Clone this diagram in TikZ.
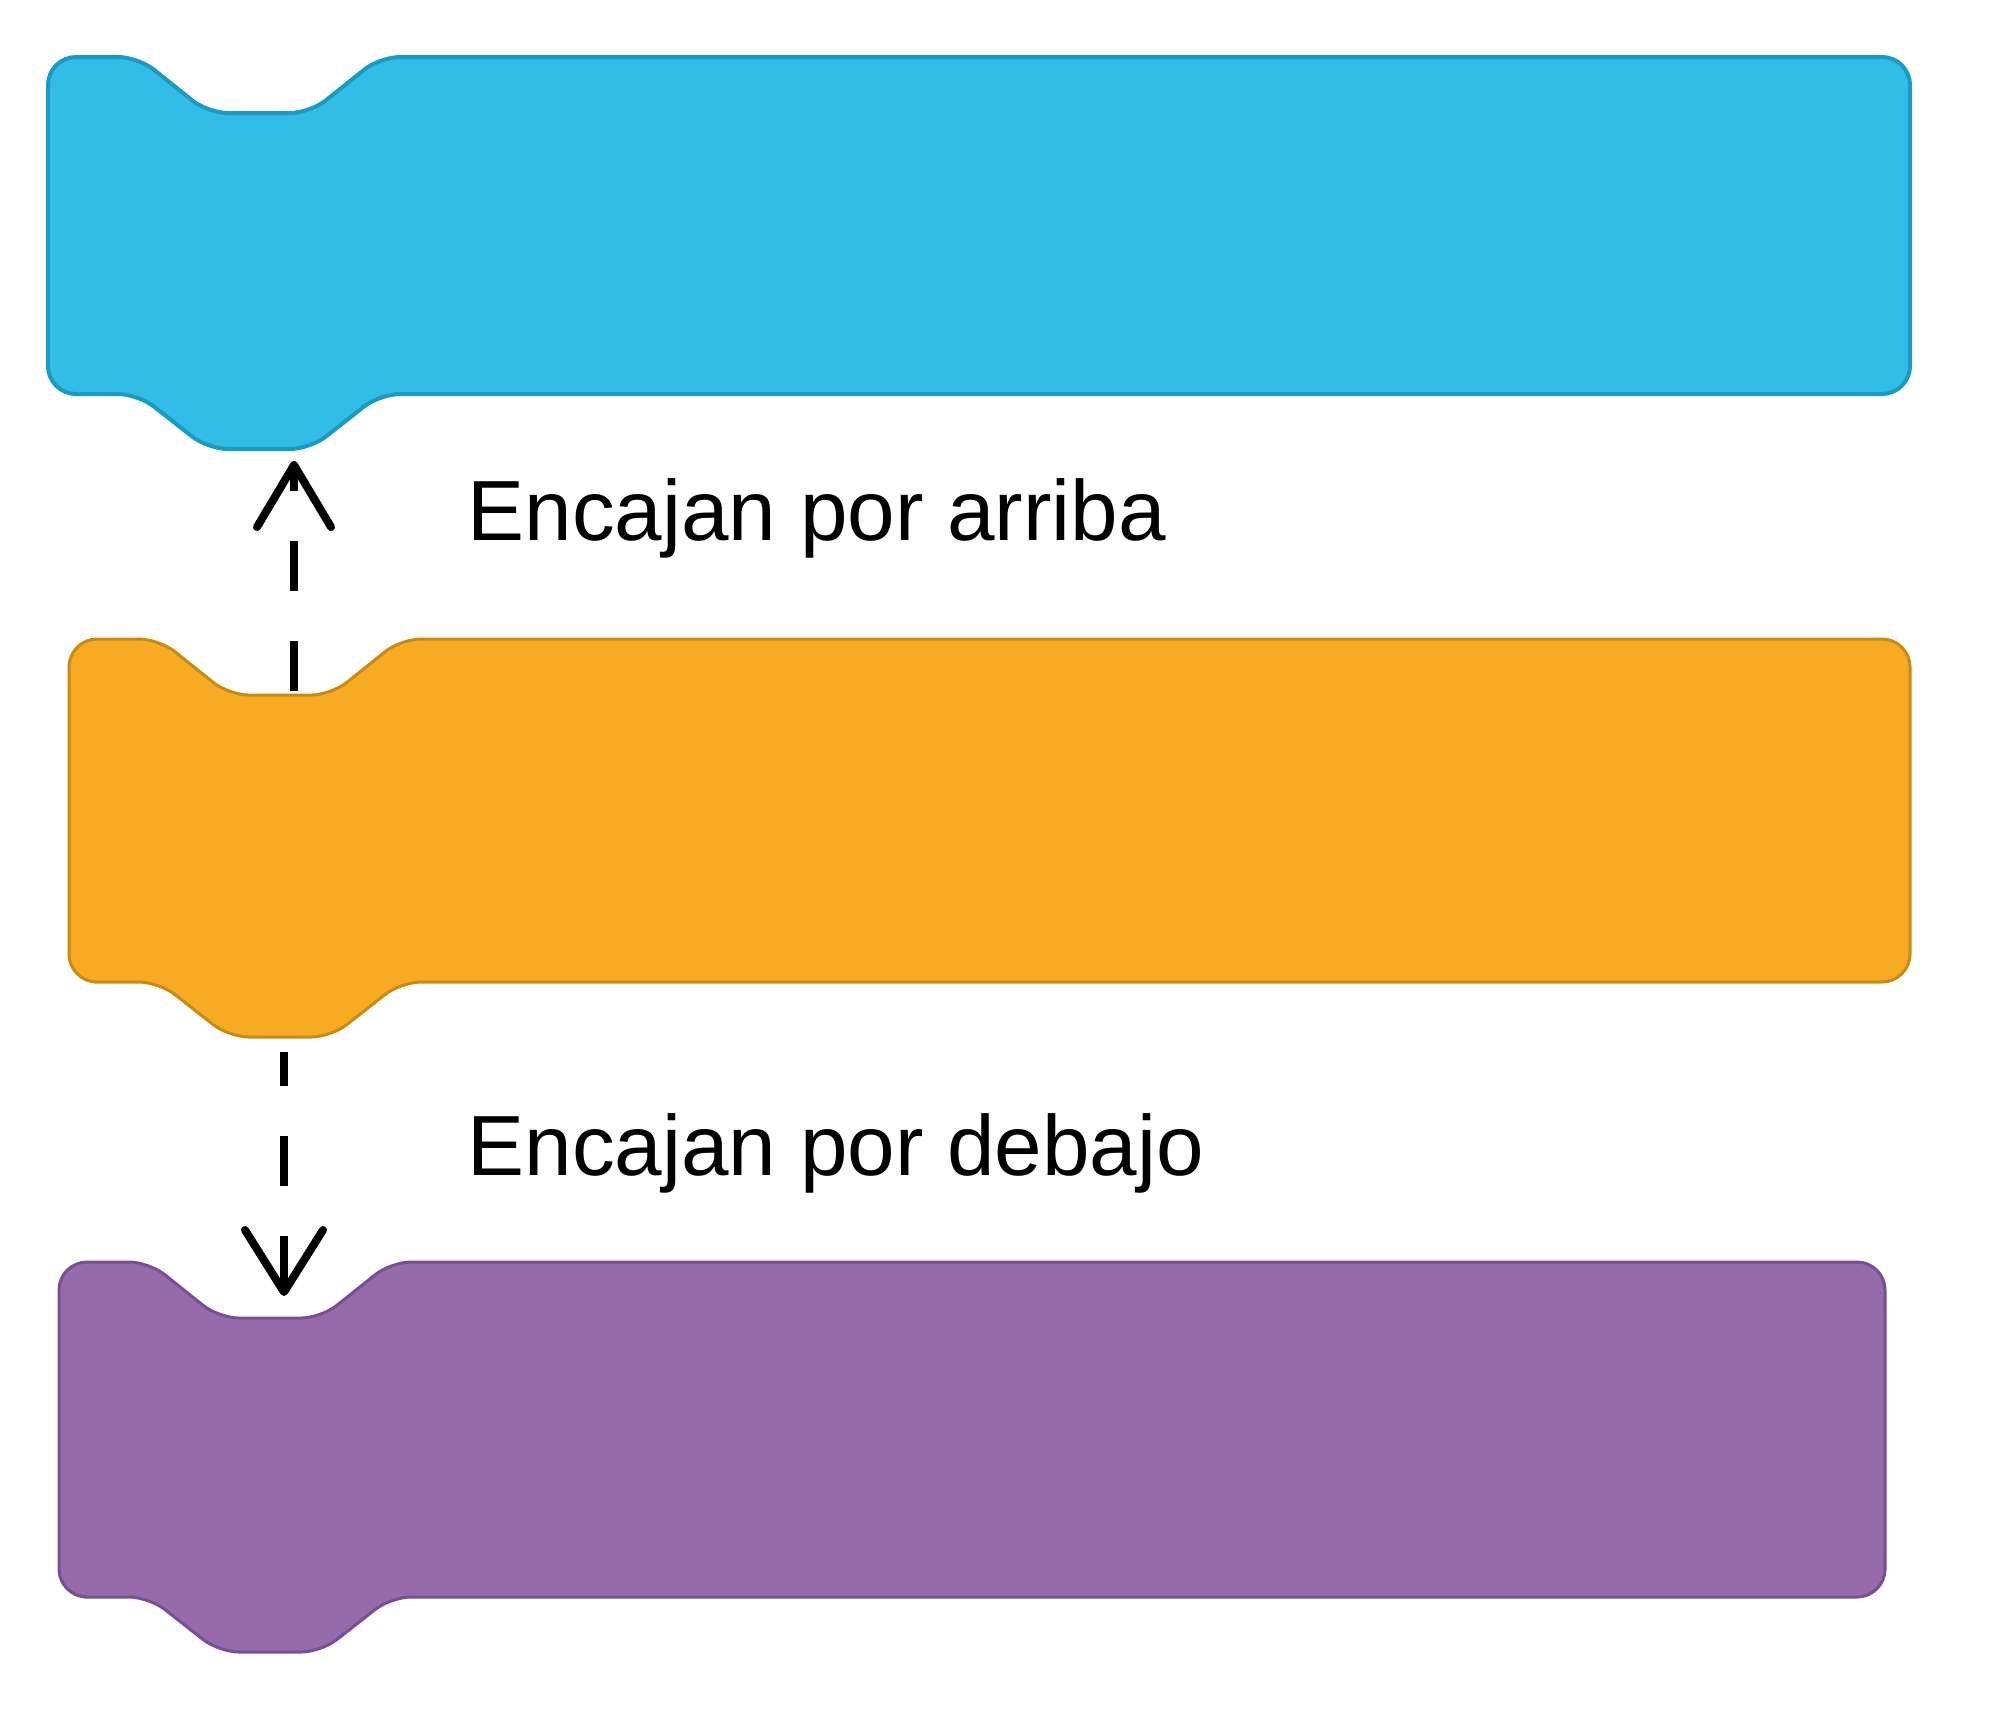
\documentclass[tikz,border=0pt]{standalone}
\usepackage{fontspec}
\setmainfont{Liberation Sans}
\usetikzlibrary{calc}
\definecolor{blueF}{HTML}{31BDE6}
\definecolor{blueD}{HTML}{1A9BC2}
\definecolor{orangeF}{HTML}{F7AB22}
\definecolor{orangeD}{HTML}{C98A14}
\definecolor{purpleF}{HTML}{956BAA}
\definecolor{purpleD}{HTML}{7A4E94}
% #1 left, #2 top, #3 right, #4 bottom, #5 fill, #6 draw, #7 width
\newcommand{\scblock}[7]{%
  \filldraw[fill=#5, draw=#6, line width=#7, line join=round]
    ({#1},{(#2+#4)/2})
    -- ({#1},{#2+28}) .. controls ({#1},{#2+12.6}) and ({#1+12.6},{#2}) .. ({#1+28},{#2})
    -- ({#1+45},{#2}) [rounded corners=0.2cm]
    -- ({#1+90},{#2}) -- ({#1+160},{#2+56}) -- ({#1+262},{#2+56}) -- ({#1+332},{#2})
    -- ({#1+420},{#2}) [sharp corners]
    -- ({#3-28},{#2}) .. controls ({#3-12.6},{#2}) and ({#3},{#2+12.6}) .. ({#3},{#2+28})
    -- ({#3},{#4-28}) .. controls ({#3},{#4-12.6}) and ({#3-12.6},{#4}) .. ({#3-28},{#4})
    -- ({#1+420},{#4}) [rounded corners=0.2cm]
    -- ({#1+332},{#4}) -- ({#1+262},{#4+55}) -- ({#1+160},{#4+55}) -- ({#1+90},{#4})
    -- ({#1+45},{#4}) [sharp corners]
    -- ({#1+28},{#4}) .. controls ({#1+12.6},{#4}) and ({#1},{#4-12.6}) .. ({#1},{#4-28})
    -- cycle;%
}
\tikzset{
  dashline/.style={line width=0.08cm, dash pattern=on 0.5cm off 0.5cm, line cap=butt},
  headline/.style={line width=0.08cm, line cap=round, line join=round},
  lbl/.style={anchor=base west, inner sep=0pt, font=\fontsize{24.3pt}{29pt}\selectfont}
}
\begin{document}
\begin{tikzpicture}[x=0.01cm, y=-0.01cm]
\useasboundingbox (0,0) rectangle (2007,1723);
\fill[white] (0,0) rectangle (2007,1723);

\scblock{48}{57}{1910}{394}{blueF}{blueD}{0.04cm}
\scblock{69}{639}{1910}{982}{orangeF}{orangeD}{0.03cm}
\scblock{59}{1262}{1885}{1597}{purpleF}{purpleD}{0.03cm}

% connector endpoints
\coordinate (upS) at (294,691);
\coordinate (upE) at (294,465);
\coordinate (dnS) at (284,1052);
\coordinate (dnE) at (284,1292);

\draw[dashline] (upS) -- (upE);
\draw[headline] ($(upE)+(-37,62)$) -- (upE) -- ($(upE)+(37,62)$);

\draw[dashline, dash phase=0.16cm] (dnS) -- (dnE);
\draw[headline] ($(dnE)+(-39,-62)$) -- (dnE) -- ($(dnE)+(39,-62)$);

\node[lbl] (t1) at (467,540) {Encajan por arriba};
\node[lbl] (t2) at (467,1175) {Encajan por debajo};
\end{tikzpicture}
\end{document}
